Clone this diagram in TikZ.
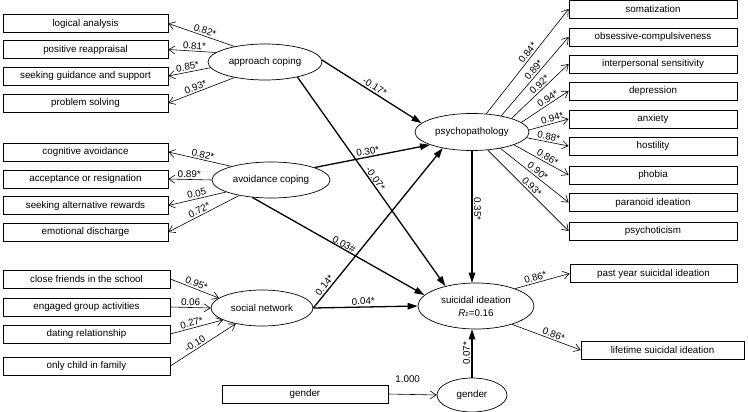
\documentclass[tikz,border=0pt]{standalone}
\usepackage{fontspec}
\setmainfont{Liberation Sans}
\usetikzlibrary{shapes.geometric,arrows.meta}
\begin{document}
\begin{tikzpicture}[x=1pt,y=-1pt,
  font=\fontsize{9.8}{11.5}\selectfont,
  box/.style={draw, line width=0.7pt, minimum height=18pt, inner sep=0pt, anchor=center},
  lat/.style={draw, ellipse, line width=0.7pt, inner sep=0pt, align=center},
  meas/.style={line width=0.6pt, -{Straight Barb[length=6pt,width=8pt]}},
  spath/.style={line width=1.3pt, -{Triangle[length=10pt,width=6.5pt]}},
  lab/.style={sloped, above, inner sep=1.5pt}]
\useasboundingbox (0,0) rectangle (748,412);

% left boxes
\node[box, minimum width=165pt] (la) at (85.5,23.5) {logical analysis};
\node[box, minimum width=165pt] (pr) at (85.5,49.5) {positive reappraisal};
\node[box, minimum width=165pt] (sg) at (85.5,76) {seeking guidance and support};
\node[box, minimum width=165pt] (ps) at (85.5,103) {problem solving};
\node[box, minimum width=165pt] (ca) at (85.5,152) {cognitive avoidance};
\node[box, minimum width=165pt] (ar) at (85.5,179) {acceptance or resignation};
\node[box, minimum width=165pt] (sa) at (85.5,205.5) {seeking alternative rewards};
\node[box, minimum width=165pt] (ed) at (85.5,232) {emotional discharge};
\node[box, minimum width=167pt] (cf) at (86.5,279) {close friends in the school};
\node[box, minimum width=167pt] (eg) at (86.5,307) {engaged group activities};
\node[box, minimum width=167pt] (dr) at (86.5,334) {dating relationship};
\node[box, minimum width=167pt] (oc) at (86.5,366) {only child in family};
\node[box, minimum width=166pt] (gb) at (305,394) {gender};

% right boxes
\node[box, minimum width=168pt] (so) at (653,9) {somatization};
\node[box, minimum width=168pt] (ob) at (653,37) {obsessive-compulsiveness};
\node[box, minimum width=168pt] (ip) at (653,64) {interpersonal sensitivity};
\node[box, minimum width=168pt] (de) at (653,91) {depression};
\node[box, minimum width=168pt] (an) at (653,119) {anxiety};
\node[box, minimum width=168pt] (ho) at (653,146) {hostility};
\node[box, minimum width=168pt] (ph) at (653,175) {phobia};
\node[box, minimum width=168pt] (pa) at (653,202.5) {paranoid ideation};
\node[box, minimum width=168pt] (pc) at (653,231) {psychoticism};
\node[box, minimum width=167pt] (py) at (653.5,273.5) {past year suicidal ideation};
\node[box, minimum width=163pt] (lt) at (662.5,350) {lifetime suicidal ideation};

% latent variables
\node[lat, minimum width=114pt, minimum height=36pt] (app) at (265,62) {approach coping};
\node[lat, minimum width=118pt, minimum height=36pt] (avo) at (271,180) {avoidance coping};
\node[lat, minimum width=102pt, minimum height=36pt] (soc) at (262,308) {social network};
\node[lat, minimum width=114pt, minimum height=37pt] (psy) at (472,132) {psychopathology};
\node[lat, minimum width=116pt, minimum height=46pt] (sui) at (476,306) {suicidal ideation\\[1.5pt]\textit{R}{\fontsize{6}{6}\selectfont 2}=0.16};
\node[lat, minimum width=70pt, minimum height=34pt] (gen) at (472,395) {gender};

% measurement: approach
\draw[meas] (app.153) -- node[lab, pos=0.47] {0.82*} (la.east);
\draw[meas] (app.169) -- node[lab, pos=0.46] {0.81*} (pr.east);
\draw[meas] (app.186) -- node[lab, pos=0.52] {0.85*} (sg.east);
\draw[meas] (app.207) -- node[lab, pos=0.56] {0.93*} (ps.east);
% measurement: avoidance
\draw[meas] (avo.161) -- node[lab, pos=0.47] {0.82*} (ca.east);
\draw[meas] (avo.180) -- node[lab, pos=0.52] {0.89*} (ar.east);
\draw[meas] (avo.195) -- node[lab, pos=0.49] {0.05} (sa.east);
\draw[meas] (avo.206) -- node[lab, pos=0.53] {0.72*} (ed.east);
% formative: social network
\draw[meas] (cf.east) -- node[lab, pos=0.5] {0.95*} (soc.167);
\draw[meas] (eg.east) -- node[lab, pos=0.5] {0.06} (soc.180);
\draw[meas] (dr.east) -- node[lab, pos=0.43] {0.27*} (soc.197);
\draw[meas] (oc.east) -- node[lab, pos=0.42] {-0.10} (soc.211);
% gender
\draw[meas] (gb.east) -- node[above=8pt, pos=0.4] {1.000} (gen.west);
% psychopathology indicators
\draw[meas] (psy.52) -- node[lab, pos=0.55] {0.84*} (so.west);
\draw[meas] (psy.29) -- node[lab, pos=0.54] {0.89*} (ob.west);
\draw[meas] (psy.19) -- node[lab, pos=0.55] {0.92*} (ip.west);
\draw[meas] (psy.11) -- node[lab, pos=0.62] {0.94*} (de.west);
\draw[meas] (psy.2) -- node[lab, pos=0.62] {0.94*} (an.west);
\draw[meas] (psy.-6) -- node[lab, pos=0.5] {0.88*} (ho.west);
\draw[meas] (psy.-17) -- node[lab, pos=0.57] {0.86*} (ph.west);
\draw[meas] (psy.-30) -- node[lab, pos=0.5] {0.90*} (pa.west);
\draw[meas] (psy.-49) -- node[lab, pos=0.5] {0.93*} (pc.west);
% suicidal indicators
\draw[meas] (sui.24) -- node[lab, pos=0.4] {0.86*} (py.west);
\draw[meas] (sui.-27) -- node[lab, pos=0.58] {0.86*} (lt.west);

% structural paths
\draw[spath] (app.2) -- node[lab, pos=0.5] {-0.17*} (psy.170);
\draw[spath] (app.335) -- node[lab, pos=0.5, inner sep=1pt] {-0.07*} (sui.147);
\draw[spath] (avo.16) -- node[lab, pos=0.47] {0.30*} (psy.197);
\draw[spath] (avo.223) -- node[lab, pos=0.52, inner sep=0.3pt] {0.03\#} (sui.168);
\draw[spath] (soc.east) -- node[lab, pos=0.12] {0.14*} (psy.209);
\draw[spath] (soc.east) -- node[lab, pos=0.48] {0.04*} (sui.west);
\draw[spath] (psy.south) -- node[lab, pos=0.44] {0.35*} (psy.south |- sui.north);
\draw[spath] (gen.north) -- node[lab, pos=0.5] {0.07*} (gen.north |- sui.south);
\end{tikzpicture}
\end{document}
